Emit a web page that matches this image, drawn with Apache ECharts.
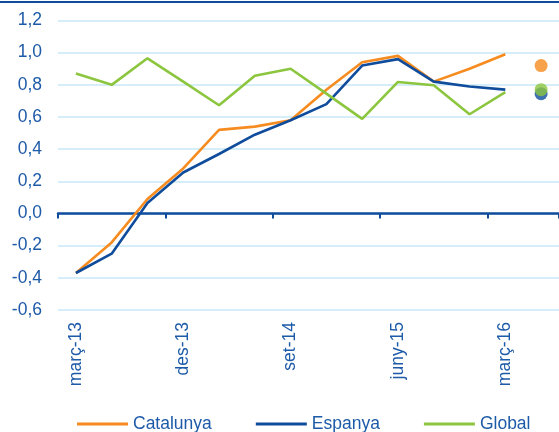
<!DOCTYPE html>
<html>
<head>
<meta charset="utf-8">
<script src="https://cdn.jsdelivr.net/npm/echarts@6/dist/echarts.min.js"></script>
<style>
  html, body { margin: 0; padding: 0; background: #fff; }
  #chart { width: 559px; height: 432px; }
</style>
</head>
<body>
<div id="chart"></div>
<script>
// trimestres
const categories = ['març-13', 'juny-13', 'set-13', 'des-13', 'març-14', 'juny-14', 'set-14',
  'des-14', 'març-15', 'juny-15', 'set-15', 'des-15', 'març-16', 'juny-16']
const catalunya = [-0.37, -0.18, 0.09, 0.28, 0.52, 0.54, 0.58, 0.77, 0.94, 0.98, 0.82, 0.90, 0.99]
const espanya = [-0.37, -0.25, 0.065, 0.255, 0.37, 0.49, 0.58, 0.68, 0.92, 0.96, 0.82, 0.79, 0.77]
const global = [0.87, 0.80, 0.965, 0.82, 0.673, 0.857, 0.90, 0.745, 0.588, 0.818, 0.797, 0.617, 0.754]
// darrer valor (punts)
const lastCat = 'juny-16'
const lastValues = { catalunya: 0.92, espanya: 0.745, global: 0.77 }

const colOrange = '#f68b1f'
const colBlue = '#0f4c9c'
const colGreen = '#8cc63f'
const colText = '#1d5aa8'
const font = 'Liberation Sans, Arial, sans-serif'
const fontSize = 17.5

const chart = echarts.init(document.getElementById('chart'))

const lineSerie = (name, data, color) => ({
  name: name,
  type: 'line',
  data: data,
  symbol: 'none',
  lineStyle: { color: color, width: 2.6 },
  itemStyle: { color: color },
  z: 3,
})
const dotSerie = (name, value, color) => ({
  name: name,
  type: 'scatter',
  data: [[lastCat, value]],
  symbol: 'circle',
  symbolSize: 13,
  itemStyle: { color: color },
  z: 4,
})

chart.setOption({
  animation: false,
  graphic: [{
    type: 'rect',
    shape: { x: 0, y: 1, width: 559, height: 2 },
    style: { fill: colBlue },
  }],
  grid: { left: 58, top: 20.5, width: 504, bottom: 122 },
  legend: {
    data: ['Catalunya', 'Espanya', 'Global'],
    left: 77,
    top: 415,
    padding: 0,
    icon: 'rect',
    itemWidth: 51,
    itemHeight: 3,
    itemGap: 44,
    textStyle: { color: colText, fontSize: fontSize, fontFamily: font },
  },
  xAxis: [
    {
      // eix a zero, amb les marques
      type: 'category',
      data: categories,
      boundaryGap: true,
      axisLine: { onZero: true, lineStyle: { color: colBlue, width: 2.5 } },
      axisTick: { show: true, interval: 2, length: 5, lineStyle: { color: colBlue, width: 2 } },
      axisLabel: { show: false },
      splitLine: { show: false },
    },
    {
      // etiquetes a sota
      type: 'category',
      data: categories,
      position: 'bottom',
      boundaryGap: true,
      axisLine: { show: false, onZero: false },
      axisTick: { show: false },
      axisLabel: {
        interval: 2,
        rotate: 90,
        margin: 12,
        color: colText,
        fontSize: fontSize,
        fontFamily: font,
      },
    },
  ],
  yAxis: {
    type: 'value',
    min: -0.6,
    max: 1.2,
    interval: 0.2,
    axisLine: { show: false },
    axisTick: { show: false },
    splitLine: { lineStyle: { color: '#c9e9f7', width: 1.5 } },
    axisLabel: {
      margin: 16,
      color: colText,
      fontSize: fontSize,
      fontFamily: font,
      formatter: function (v) {
        if (Math.abs(v) < 1e-9) v = 0
        return v.toFixed(1).replace('.', ',')
      },
    },
  },
  series: [
    lineSerie('Catalunya', catalunya, colOrange),
    lineSerie('Espanya', espanya, colBlue),
    lineSerie('Global', global, colGreen),
    dotSerie('Catalunya darrer', lastValues.catalunya, colOrange),
    dotSerie('Espanya darrer', lastValues.espanya, colBlue),
    dotSerie('Global darrer', lastValues.global, colGreen),
  ],
})
</script>
</body>
</html>
